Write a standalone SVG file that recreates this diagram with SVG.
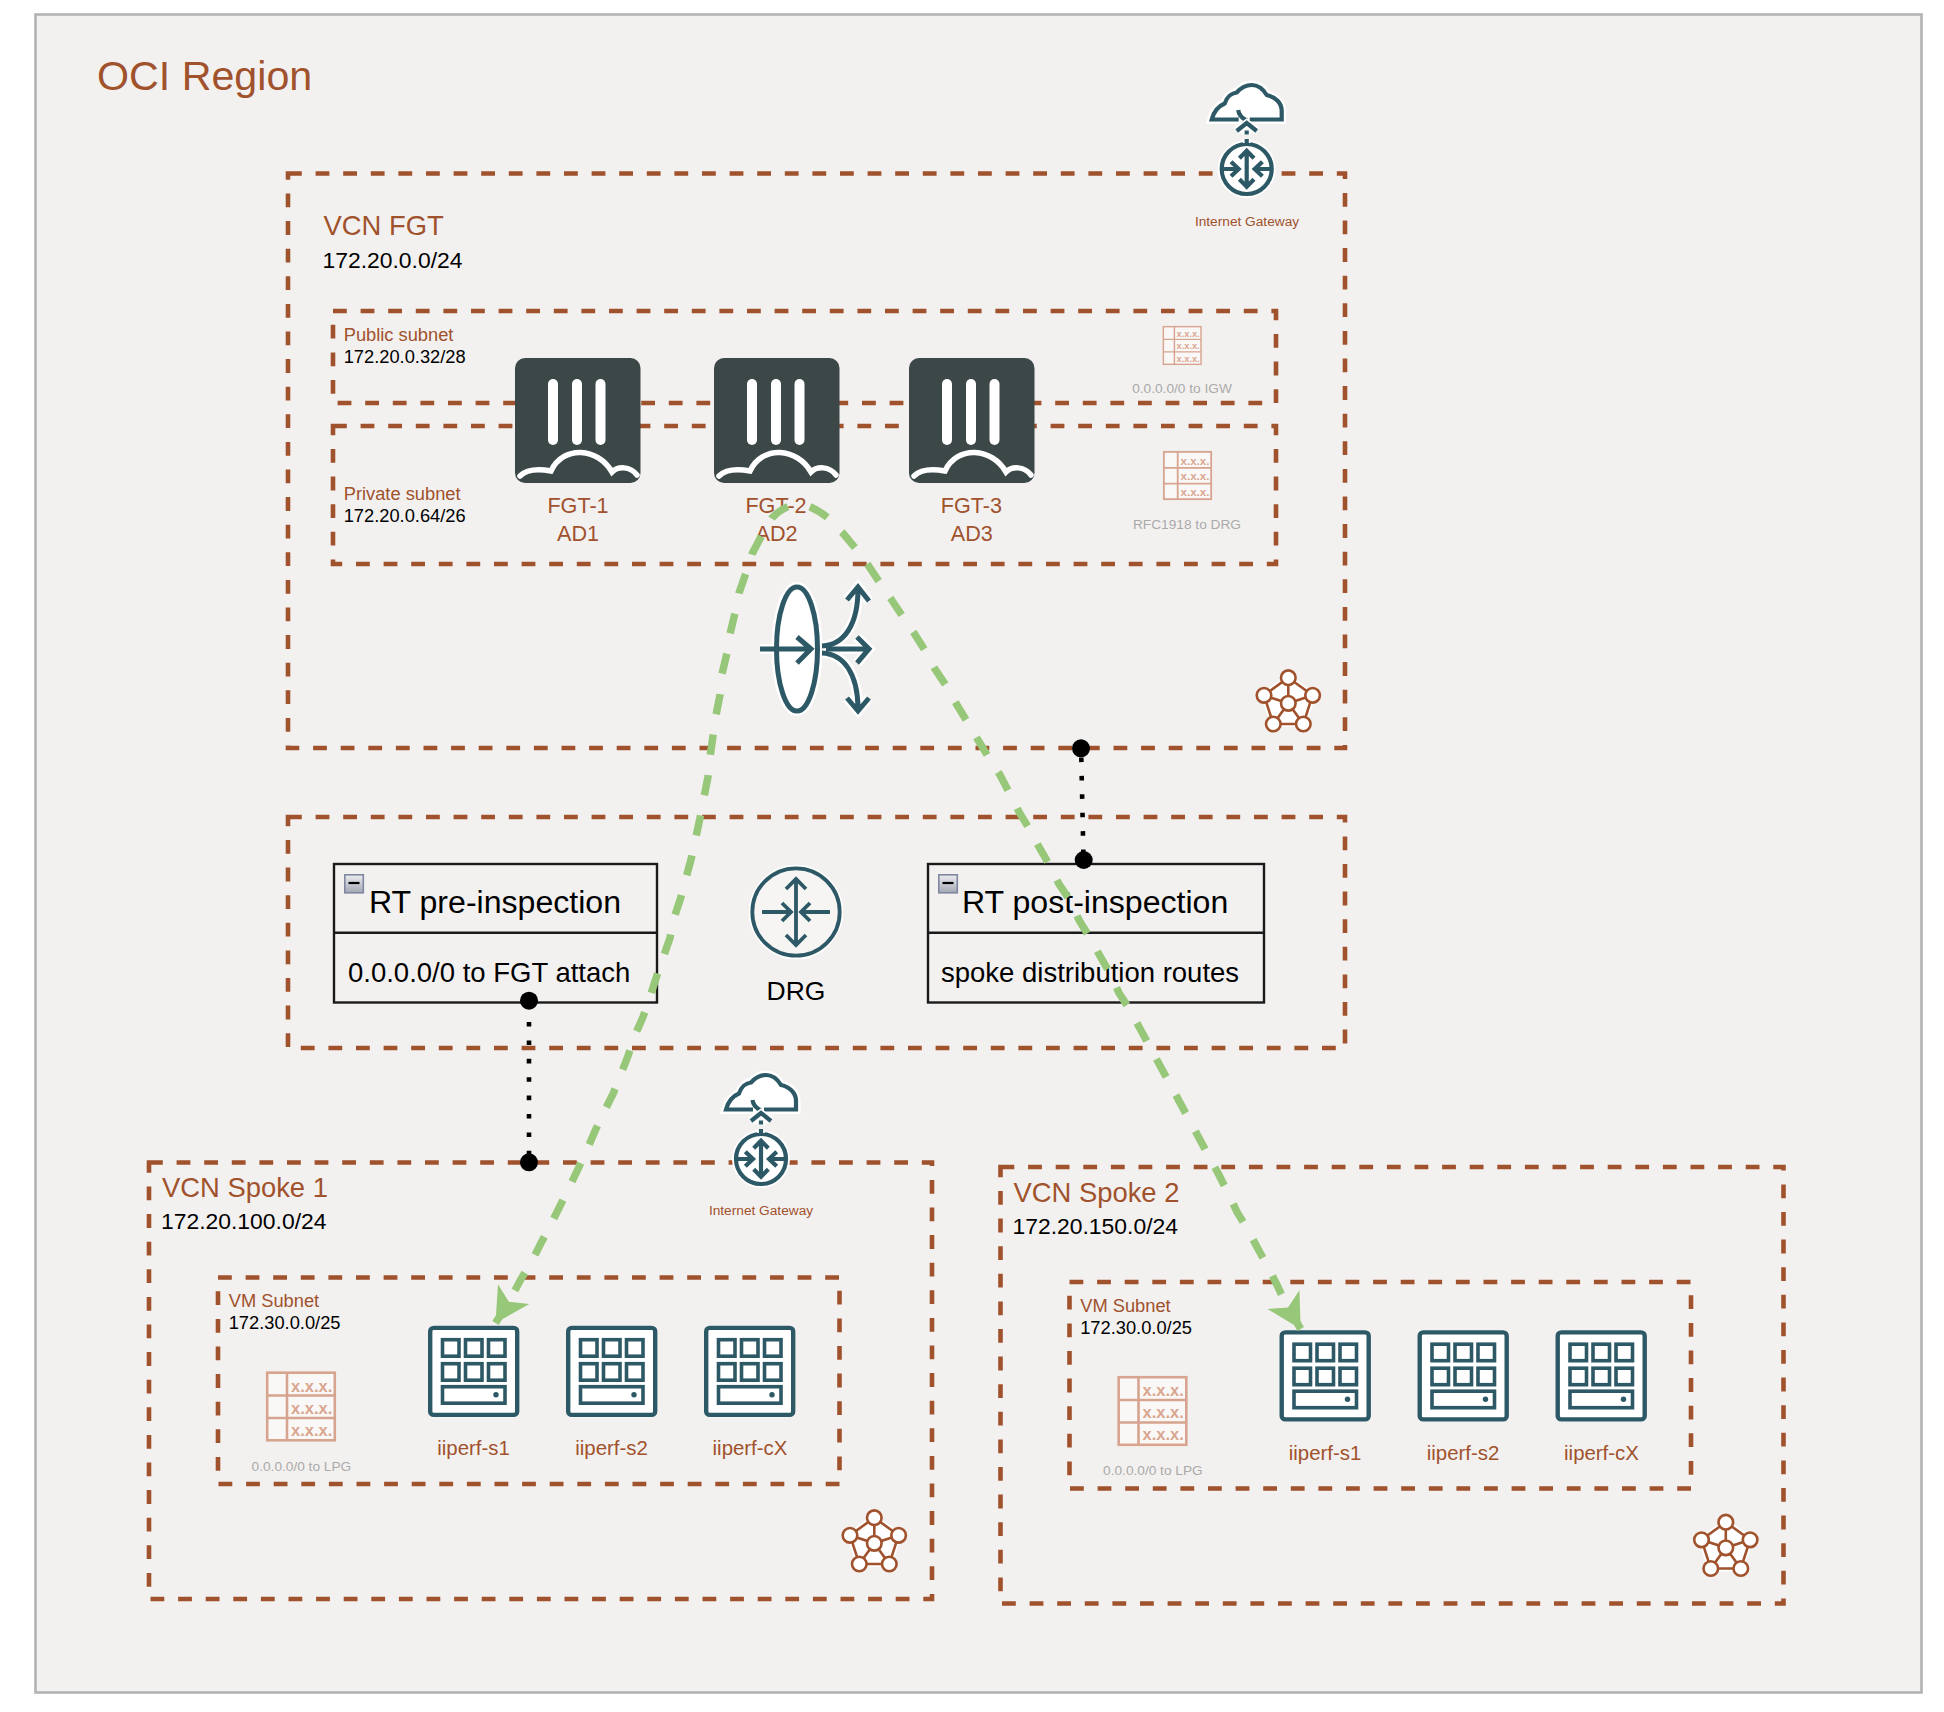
<svg xmlns="http://www.w3.org/2000/svg" xmlns:xlink="http://www.w3.org/1999/xlink" width="1944" height="1712" viewBox="0 0 1944 1712">
<style>
text{font-family:"Liberation Sans",Arial,Helvetica,sans-serif}
.br{fill:#A0522D}.bk{fill:#000}.gy{fill:#AAAAAA}.mid{text-anchor:middle}
.box{fill:none;stroke:#A0522D;stroke-width:4.6;stroke-dasharray:13.8 13.8}
.tb{fill:none;stroke:#1a1a1a;stroke-width:2.4}
.flow{fill:none;stroke:#97C778;stroke-width:7.5;stroke-dasharray:20.5 20.5;stroke-dashoffset:-11.5}
.dotline{fill:none;stroke:#000;stroke-width:4.6;stroke-dasharray:4.6 13.8}
.teal{stroke:#2D5967;fill:none}
.halo{stroke:#fff;fill:none}
.t32{font-size:32.1px}.t27{font-size:27.5px}.t22{font-size:22.9px}.t18{font-size:18.3px}.t21{font-size:21.6px}.t20{font-size:20.4px}.t14{font-size:13.7px}
</style>
<defs>
<linearGradient id="minusFill" x1="0" y1="0" x2="0" y2="1"><stop offset="0" stop-color="#ECECF0"/><stop offset="1" stop-color="#A4A8B4"/></linearGradient>
<marker id="head" markerUnits="userSpaceOnUse" markerWidth="44" markerHeight="44" viewBox="-40 -22 44 44" refX="0" refY="0" orient="auto"><path d="M0,0 L-34,-18.5 L-25,0 L-34,18.5 Z" fill="#97C778"/></marker>
<path id="cloudFill" d="M-35,-49.5 C-33,-57 -28,-63 -22,-65.5 C-20,-72 -15,-76 -10,-76.5 C-6,-81 0,-84 5,-84 C12,-84 17,-79 20,-74 C29,-72 35,-66 35,-58 L35,-49.5 Z"/>
<g id="igwShape" stroke-linecap="butt">
<path d="M-8,-49.5 H-35 C-33,-57 -28,-63 -22,-65.5 C-20,-72 -15,-76 -10,-76.5 C-6,-81 0,-84 5,-84 C12,-84 17,-79 20,-74 C29,-72 35,-66 35,-58 L35,-49.5 H3"/>
<path d="M-8.5,-59 C-8,-54 -4,-50.5 0,-48.5"/>
<circle r="25"/>
<path d="M-26,0 H-9 M-15.7,-7.3 L-8,0 L-15.7,7.3 M26,0 H9 M15.7,-7.3 L8,0 L15.7,7.3 M0,-17 V17 M-7.3,-10.7 L0,-18.3 L7.3,-10.7 M-7.3,10.3 L0,17.7 L7.3,10.3"/>
</g>
<path id="igwTail" d="M-10,-38 L0,-46 L10,-38 M0,-38.5 V-34.5 M0,-30 V-26"/>
<g id="igw">
<use href="#cloudFill" fill="#fff" stroke="#fff" stroke-width="9"/>
<use href="#igwTail" class="halo" stroke-width="9"/>
<circle r="29" fill="#fff"/>
<use href="#igwShape" class="teal" stroke-width="4.2"/>
<use href="#igwTail" class="halo" stroke-width="7.5"/>
<use href="#igwTail" class="teal" stroke-width="4.2"/>
</g>
<g id="fgt">
<rect width="125.5" height="125" rx="10" fill="#3C4748"/>
<rect x="33" y="21" width="10" height="66" rx="5" fill="#fff"/>
<rect x="57" y="21" width="10" height="66" rx="5" fill="#fff"/>
<rect x="80.5" y="21" width="10" height="66" rx="5" fill="#fff"/>
<path d="M5,118 C10,113 20,110 36,113 C42,100 54,94 66,94.5 C78,95 90,102 97,114 C103,108 115,108 122,117" fill="none" stroke="#fff" stroke-width="5.5" stroke-linecap="round"/>
</g>
<g id="rtable">
<rect x="1.2" y="1.2" width="67.6" height="67.6" fill="#FAF8F7" stroke="#D6A48F" stroke-width="2.6"/>
<path d="M21,1 V69 M1,24 H69 M1,46.5 H69" fill="none" stroke="#D6A48F" stroke-width="2.6"/>
<g fill="#D9A690" font-size="16.5" font-weight="700"><text x="25" y="20">x.x.x.</text><text x="25" y="42">x.x.x.</text><text x="25" y="64">x.x.x.</text></g>
</g>
<g id="server">
<rect x="0" y="0" width="91.5" height="91.5" rx="5" fill="#fff"/>
<g fill="#fff" stroke="#2D5967" stroke-width="3.6">
<rect x="2.2" y="2.2" width="87" height="87" rx="3.5" stroke-width="4.4"/>
<rect x="14.5" y="14" width="16.5" height="16.5"/><rect x="37.5" y="14" width="16.5" height="16.5"/><rect x="60.5" y="14" width="16.5" height="16.5"/>
<rect x="14.5" y="38" width="16.5" height="16.5"/><rect x="37.5" y="38" width="16.5" height="16.5"/><rect x="60.5" y="38" width="16.5" height="16.5"/>
<rect x="14.5" y="61" width="62.5" height="16.5"/>
</g>
<circle cx="68" cy="69" r="2.7" fill="#2D5967"/>
</g>
<g id="vcnIcon">
<path d="M0,-25.6 L24.3,-8 L15,20.7 L-15,20.7 L-24.3,-8 Z" fill="#fff" stroke="#fff" stroke-width="6"/>
<path d="M0,-25.6 L24.3,-8 L15,20.7 L-15,20.7 L-24.3,-8 Z M0,-25.6 V0 M-24.3,-8 L0,0 L24.3,-8 M-15,20.7 L0,0 L15,20.7" fill="none" stroke="#A0522D" stroke-width="2.6"/>
<g fill="#fff" stroke="#A0522D" stroke-width="2.6">
<circle cx="0" cy="-25.6" r="7.3"/><circle cx="-24.3" cy="-8" r="7.3"/><circle cx="24.3" cy="-8" r="7.3"/><circle cx="-15" cy="20.7" r="7.3"/><circle cx="15" cy="20.7" r="7.3"/><circle cx="0" cy="0" r="7.3"/>
</g>
</g>
<g id="lbShape">
<ellipse cx="797" cy="649" rx="20.5" ry="62"/>
<path d="M760,649 H812 M797,637 L811,649 L797,663"/>
<path d="M822,646 C844,645 858,625 858,589 M847,600 L858,587 L869,601"/>
<path d="M826,649 H869 M857,637 L869,649 L857,663"/>
<path d="M822,653 C844,654 858,674 858,709 M847,698 L858,711 L869,698"/>
</g>
<g id="drgShape">
<circle r="43.7"/>
<path d="M-34,0 H-6 M-14,-9 L-5,0 L-14,9 M34,0 H6 M14,-9 L5,0 L14,9 M0,-33 V33 M-10,-23 L0,-33 L10,-23 M-10,23 L0,33 L10,23"/>
</g>
<g id="minus"><rect x="0.8" y="0.8" width="18.5" height="18" fill="url(#minusFill)" stroke="#7F88A0" stroke-width="1.6"/><path d="M4.5,9 H15.5" stroke="#000" stroke-width="2.2"/></g>
</defs>

<rect width="1944" height="1712" fill="#fff"/>
<g id="region">
<rect x="35.5" y="14.5" width="1886" height="1678" fill="#F3F1F0" stroke="#B3B3B3" stroke-width="2.6"/>
<text x="97" y="90" class="br" font-size="41.2">OCI Region</text>
</g>

<g id="vcn-fgt">
<rect class="box" x="288" y="173.5" width="1057" height="574.5"/>
<text x="323.5" y="235" class="br" font-size="27.4">VCN FGT</text>
<text x="322.5" y="268" class="bk t22">172.20.0.0/24</text>
</g>
<g id="public-subnet">
<rect class="box" x="333" y="311" width="943" height="92"/>
<text x="343.7" y="340.7" class="br t18">Public subnet</text>
<text x="343.7" y="362.7" class="bk t18">172.20.0.32/28</text>
<use href="#rtable" transform="translate(1162.7 326) scale(.557)"/>
<text x="1182" y="393" class="gy mid t14">0.0.0.0/0 to IGW</text>
</g>
<g id="private-subnet">
<rect class="box" x="333" y="426" width="943" height="138"/>
<text x="343.7" y="500" class="br t18">Private subnet</text>
<text x="343.7" y="521.7" class="bk t18">172.20.0.64/26</text>
<use href="#rtable" transform="translate(1163 451) scale(.7)"/>
<text x="1187" y="528.7" class="gy mid t14">RFC1918 to DRG</text>
</g>
<g id="fgt-1"><use href="#fgt" x="515" y="358"/><text x="578" y="513" class="br mid t21">FGT-1</text><text x="578" y="540.5" class="br mid t21">AD1</text></g>
<g id="fgt-2"><use href="#fgt" x="714" y="358"/><text x="776" y="513" class="br mid t21">FGT-2</text><text x="776.5" y="540.5" class="br mid t21">AD2</text></g>
<g id="fgt-3"><use href="#fgt" x="909" y="358"/><text x="971.3" y="513" class="br mid t21">FGT-3</text><text x="971.8" y="540.5" class="br mid t21">AD3</text></g>
<g id="igw-fgt"><use href="#igw" transform="translate(1246.7 169)"/><text x="1247" y="225.7" class="br mid t14">Internet Gateway</text></g>
<g id="load-balancer">
<use href="#lbShape" class="halo" stroke-width="10"/>
<ellipse cx="797" cy="649" rx="20.5" ry="62" fill="#fff"/>
<use href="#lbShape" class="teal" stroke-width="5"/>
</g>
<g id="vcn-fgt-icon"><use href="#vcnIcon" transform="translate(1288.3 703.3)"/></g>

<g id="drg-box"><rect class="box" x="288" y="817" width="1057" height="231"/></g>
<g id="rt-pre">
<rect class="tb" x="334" y="864" width="323" height="138.5"/><path class="tb" d="M334,932.7 H657"/>
<use href="#minus" x="344" y="874"/>
<text x="369" y="912.7" class="bk t32">RT pre-inspection</text>
<text x="348" y="981.7" class="bk t27">0.0.0.0/0 to FGT attach</text>
</g>
<g id="rt-post">
<rect class="tb" x="928" y="864" width="336" height="138.5"/><path class="tb" d="M928,932.7 H1264"/>
<use href="#minus" x="938" y="874"/>
<text x="962" y="912.7" class="bk t32">RT post-inspection</text>
<text x="941" y="981.7" class="bk t27">spoke distribution routes</text>
</g>
<g id="drg">
<use href="#drgShape" transform="translate(796 912)" class="halo" stroke-width="7"/>
<circle cx="796" cy="912" r="43.7" fill="#F6F5F4"/>
<use href="#drgShape" transform="translate(796 912)" class="teal" stroke-width="3.8"/>
<text x="796" y="1000" class="bk mid" font-size="26.5">DRG</text>
</g>

<g id="vcn-spoke-1">
<rect class="box" x="149" y="1162.5" width="783" height="436.5"/>
<text x="162" y="1197" class="br" font-size="27.4">VCN Spoke 1</text>
<text x="161" y="1229" class="bk t22">172.20.100.0/24</text>
<use href="#vcnIcon" transform="translate(874.3 1543.3)"/>
</g>
<g id="vm-subnet-1">
<rect class="box" x="218" y="1277.5" width="621.5" height="206.5"/>
<text x="228.7" y="1306.7" class="br t18">VM Subnet</text>
<text x="228.7" y="1328.7" class="bk t18">172.30.0.0/25</text>
<use href="#rtable" x="266" y="1371.5"/>
<text x="301.4" y="1470.7" class="gy mid t14">0.0.0.0/0 to LPG</text>
</g>
<g id="s1-iperf-s1"><use href="#server" x="428" y="1325.7"/><text x="473.5" y="1455" class="br mid t20">iiperf-s1</text></g>
<g id="s1-iperf-s2"><use href="#server" x="566" y="1325.7"/><text x="611.5" y="1455" class="br mid t20">iiperf-s2</text></g>
<g id="s1-iperf-cx"><use href="#server" x="704" y="1325.7"/><text x="750" y="1455" class="br mid t20">iiperf-cX</text></g>
<g id="igw-spoke-1"><use href="#igw" transform="translate(761 1159)"/><text x="761" y="1215" class="br mid t14">Internet Gateway</text></g>

<g id="vcn-spoke-2" transform="translate(851.5 4.5)">
<rect class="box" x="149" y="1162.5" width="783" height="436.5"/>
<text x="162" y="1197" class="br" font-size="27.4">VCN Spoke 2</text>
<text x="161" y="1229" class="bk t22">172.20.150.0/24</text>
<use href="#vcnIcon" transform="translate(874.3 1543.3)"/>
</g>
<g id="vm-subnet-2" transform="translate(851.5 4.5)">
<rect class="box" x="218" y="1277.5" width="621.5" height="206.5"/>
<text x="228.7" y="1307.5" class="br t18">VM Subnet</text>
<text x="228.7" y="1329.5" class="bk t18">172.30.0.0/25</text>
<use href="#rtable" x="266" y="1371.5"/>
<text x="301.4" y="1470.7" class="gy mid t14">0.0.0.0/0 to LPG</text>
</g>
<g id="s2-iperf-s1" transform="translate(851.5 4.5)"><use href="#server" x="428" y="1325.7"/><text x="473.5" y="1455" class="br mid t20">iiperf-s1</text></g>
<g id="s2-iperf-s2" transform="translate(851.5 4.5)"><use href="#server" x="566" y="1325.7"/><text x="611.5" y="1455" class="br mid t20">iiperf-s2</text></g>
<g id="s2-iperf-cx" transform="translate(851.5 4.5)"><use href="#server" x="704" y="1325.7"/><text x="750" y="1455" class="br mid t20">iiperf-cX</text></g>

<g id="connectors">
<path class="dotline" d="M529,1003.6 V1162"/>
<path class="dotline" d="M1081.3,757.5 L1083.5,860"/>
<g fill="#000"><circle cx="529" cy="1000.7" r="9"/><circle cx="529" cy="1162.3" r="9"/><circle cx="1081" cy="748.3" r="9"/><circle cx="1083.7" cy="860" r="9"/></g>
<path class="flow" marker-end="url(#head)" d="M799,503 Q782,507 772,518 L762,535 L752,554 L746,573 L739,593 L735,613 L730,634 L727,653 L722,674 L720,695 L716,715 L713,736 L710,757 L708,777 L704,797 L700,818 L691.4,858 L686,878 L680.7,898 L674,918 L670,938 L663,958 L656.4,977 L650,997 L643,1017 L635,1035 L628,1056 L621,1074 L613,1094 L604,1112 L595,1131 L587,1150 L578,1169 L569,1188 L560,1206 L551,1224 L541,1243 L532,1261 L521,1279 L510,1300 L495.5,1323"/>
<path class="flow" marker-end="url(#head)" d="M799,503 Q815,507 828,518 L842,532 L856,549 L868,565 L880,583 L891,599 L903,617 L914,633 L926,652 L935,669 L947,687 L957,705 L968,723 L978,740 L989,758 L1000,775 L1010,794 L1019,812 L1030,830 L1039,847 L1050,866 L1059,884 L1071,902 L1079,920 L1090,938 L1100,956 L1111,975 L1119,993 L1130,1010 L1219,1175 L1228,1193 L1237,1212 L1248,1230 L1257,1247 L1268,1267 L1277,1285 L1286,1304 L1300.7,1329"/>
</g>
</svg>
